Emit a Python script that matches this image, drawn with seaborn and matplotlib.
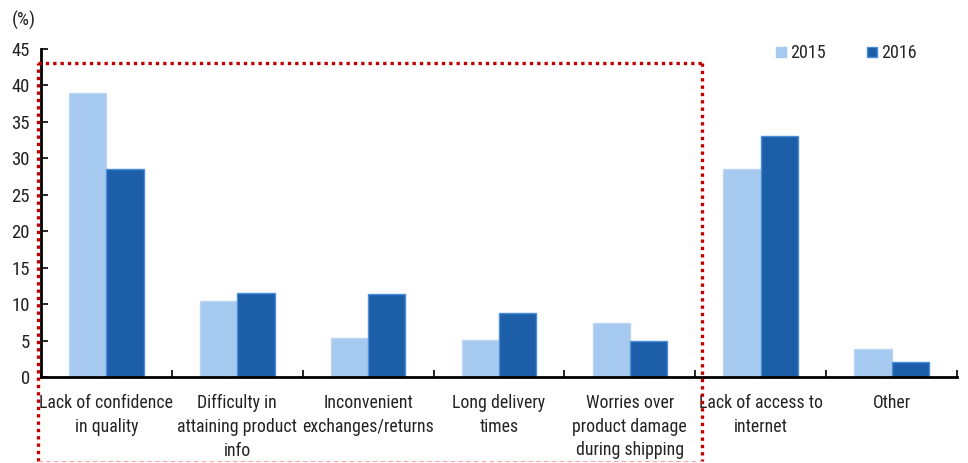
import matplotlib
matplotlib.use("Agg")
import matplotlib.pyplot as plt
from matplotlib import font_manager
from matplotlib.font_manager import FontProperties
from matplotlib.lines import Line2D
from matplotlib.ticker import FixedLocator, MultipleLocator
import seaborn as sns
import pandas as pd

# Reasons for not shopping online, share of respondents (%)
categories = [
    "Lack of confidence\nin quality",
    "Difficulty in\nattaining product\ninfo",
    "Inconvenient\nexchanges/returns",
    "Long delivery\ntimes",
    "Worries over\nproduct damage\nduring shipping",
    "Lack of access to\ninternet",
    "Other",
]
years = ["2015", "2016"]
values_2015 = [38.9, 10.4, 5.4, 5.1, 7.4, 28.5, 3.8]
values_2016 = [28.5, 11.5, 11.4, 8.8, 5.0, 33.0, 2.0]

df = pd.DataFrame({
    "category": categories * 2,
    "year": [years[0]] * len(categories) + [years[1]] * len(categories),
    "value": values_2015 + values_2016,
})

sns.set_theme(style="white")
plt.rcParams["font.family"] = ["Liberation Sans", "DejaVu Sans"]

# pick a narrow sans face if one is available
narrow_path = None
paths = [f.fname for f in font_manager.fontManager.ttflist]
for key in ["LiberationSansNarrow-Regular", "RobotoCondensed-Regular",
            "Roboto_Condensed-Regular", "DejaVuSansCondensed.ttf",
            "OpenSans_Condensed-Regular", "OpenSansCondensed"]:
    hits = [p for p in paths if key.lower() in p.lower().replace(" ", "")]
    if hits:
        narrow_path = sorted(hits)[0]
        break
if narrow_path is None:
    import glob
    for pat in ["/usr/share/fonts/**/*Narrow-Regular*.ttf", "/usr/share/fonts/**/*Condensed-Regular*.ttf",
                "/usr/share/fonts/**/DejaVuSansCondensed.ttf"]:
        hits = glob.glob(pat, recursive=True)
        if hits:
            narrow_path = sorted(hits)[0]
            break

if narrow_path:
    def fp(size):
        return FontProperties(fname=narrow_path, size=size)
    tick_size, xlab_size = 13.5, 12.8
else:
    def fp(size):
        return FontProperties(family=["Liberation Sans", "DejaVu Sans"], size=size)
    tick_size, xlab_size = 12.5, 11.0

light = "#a6c9ef"
dark = "#1c5ea8"

fig = plt.figure(figsize=(9.68, 4.63), dpi=100)
ax = fig.add_axes([41 / 968, 1 - 377 / 463, (957 - 41) / 968, (377 - 49) / 463])

sns.barplot(data=df, x="category", y="value", hue="year", order=categories,
            hue_order=years, palette=[light, dark], width=0.57, gap=0,
            dodge=True, saturation=1, ax=ax, legend=False)

# bar outlines
dark_rgb = matplotlib.colors.to_rgb(dark)
for patch in ax.patches:
    fc = patch.get_facecolor()
    if abs(fc[0] - dark_rgb[0]) < 0.02:
        patch.set_edgecolor("#4a8ed8")
    else:
        patch.set_edgecolor("#bcd7f4")
    patch.set_linewidth(1.0)

ax.set_xlim(-0.5, len(categories) - 0.5)
ax.set_ylim(0, 45)
ax.yaxis.set_major_locator(MultipleLocator(5))
ax.set_xlabel("")
ax.set_ylabel("")

for side in ["top", "right"]:
    ax.spines[side].set_visible(False)
for side in ["left", "bottom"]:
    ax.spines[side].set_color("black")
    ax.spines[side].set_linewidth(2.0)

ax.tick_params(axis="y", direction="in", length=5, width=1.2, colors="black",
               pad=8, left=True)
ax.tick_params(axis="x", which="major", length=0, pad=12)
ax.xaxis.set_minor_locator(FixedLocator([i - 0.5 for i in range(len(categories) + 1)]))
ax.tick_params(axis="x", which="minor", direction="in", length=5, width=1.2,
               colors="black", bottom=True)
for lab in ax.get_xticklabels():
    lab.set_fontproperties(fp(xlab_size))
    lab.set_linespacing(1.42)
    lab.set_color("#222222")
for lab in ax.get_yticklabels():
    lab.set_fontproperties(fp(tick_size))
    lab.set_color("#222222")

fig.text(12 / 968, 1 - 20 / 463, "(%)", fontproperties=fp(tick_size), color="#222222", va="center")

# legend
handles = [Line2D([0], [0], marker="s", linestyle="none", markersize=7,
                  markerfacecolor=light, markeredgecolor=light),
           Line2D([0], [0], marker="s", linestyle="none", markersize=7,
                  markerfacecolor=dark, markeredgecolor="#4a8ed8")]
fig.legend(handles, years, loc="center left", bbox_to_anchor=(775 / 968, 1 - 53 / 463),
           ncol=2, frameon=False, prop=fp(13), handlelength=0.7, handletextpad=0.15,
           columnspacing=2.2, borderaxespad=0, borderpad=0)

# highlight box around the product-related reasons
x0, x1 = 38 / 968, 702 / 968
y_top, y_bot = 1 - 63 / 463, 1 - 461 / 463
red = "#c00000"
dot = (0, (1, 1.2))
for xs, ys in [([x0, x0], [y_bot, y_top]), ([x0, x1], [y_top, y_top]), ([x1, x1], [y_top, y_bot])]:
    fig.add_artist(Line2D(xs, ys, transform=fig.transFigure, color=red,
                          linewidth=2.4, linestyle=dot, solid_capstyle="butt"))
fig.add_artist(Line2D([x0, x1], [y_bot, y_bot], transform=fig.transFigure,
                      color="#f3a6a6", linewidth=0.8, linestyle=(0, (4, 3))))

fig.savefig("out.png", dpi=100)
